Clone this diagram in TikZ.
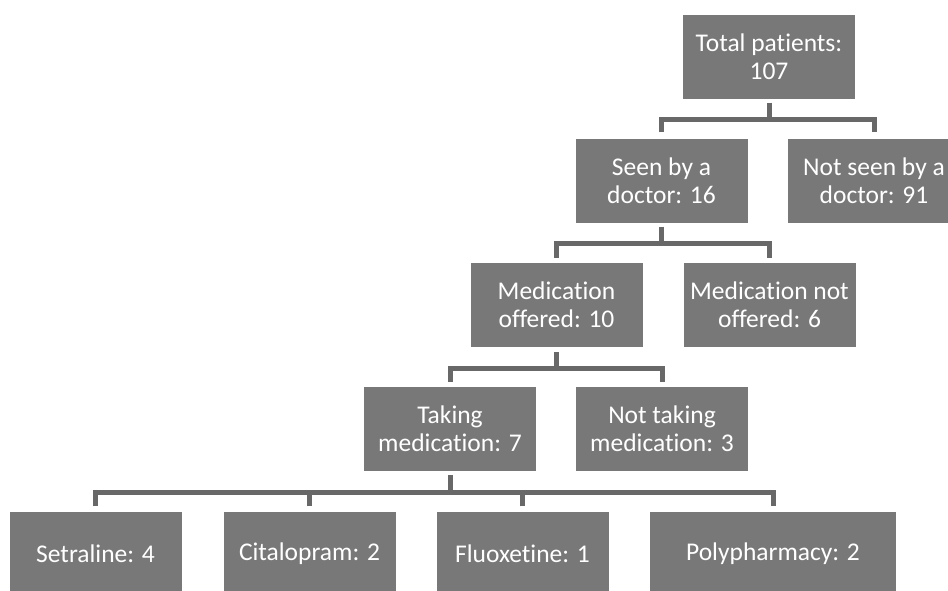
\documentclass[tikz,border=0pt]{standalone}
\usepackage{fontspec}
\setmainfont{Carlito}[Ligatures=NoCommon]
\definecolor{boxgray}{RGB}{120,120,120}
\definecolor{linegray}{RGB}{104,104,104}
\begin{document}
\begin{tikzpicture}[x=1pt,y=-1pt,
  box/.style={fill=boxgray,text=white,minimum width=172pt,minimum height=84pt,
    inner sep=0pt,align=center,font=\fontsize{25.5}{28}\selectfont},
  conn/.style={draw=linegray,line width=5pt,line join=miter}]
\useasboundingbox (0,0) rectangle (948,590);
\clip (0,0) rectangle (948,590);
\node[box] (tot) at (769,56.5) {Total patients:\\107};
\node[box] (seen) at (661.5,180.5) {Seen by a\\doctor: 16};
\node[box] (nseen) at (874,180.5) {Not seen by a\\doctor: 91};
\node[box] (moff) at (556.5,305) {Medication\\offered: 10};
\node[box] (mnoff) at (769.5,305) {Medication not\\offered: 6};
\node[box] (take) at (450,429) {Taking\\medication: 7};
\node[box] (ntake) at (662,429) {Not taking\\medication: 3};
\node[box] (setr) at (95.5,553.5) {Setraline: 4};
\node[box] (cital) at (309.5,553.5) {Citalopram: 2};
\node[box] (fluox) at (522.5,553.5) {Fluoxetine: 1};
\node[box,minimum width=246pt] (poly) at (773,553.5) {Polypharmacy: 2};
% level 1
\draw[conn] ([yshift=-4pt]tot.south) -- ([yshift=-21pt]tot.south);
\draw[conn] ([yshift=6pt]seen.north) |- ([yshift=-21pt]tot.south) -| ([yshift=6pt]nseen.north);
% level 2
\draw[conn] ([yshift=-4pt]seen.south) -- ([yshift=-21pt]seen.south);
\draw[conn] ([yshift=5pt]moff.north) |- ([yshift=-21pt]seen.south) -| ([yshift=5pt]mnoff.north);
% level 3
\draw[conn] ([yshift=-5pt]moff.south) -- ([yshift=-21pt]moff.south);
\draw[conn] ([yshift=5pt]take.north) |- ([yshift=-21pt]moff.south) -| ([yshift=5pt]ntake.north);
% level 4
\coordinate (bus) at ([yshift=-21pt]take.south);
\draw[conn] ([yshift=-4pt]take.south) -- (bus);
\draw[conn] ([yshift=5pt]setr.north) |- (bus) -| ([yshift=5pt]poly.north);
\draw[conn] ([yshift=5pt]cital.north) -- (cital.north |- bus);
\draw[conn] ([yshift=5pt]fluox.north) -- (fluox.north |- bus);
\end{tikzpicture}
\end{document}
